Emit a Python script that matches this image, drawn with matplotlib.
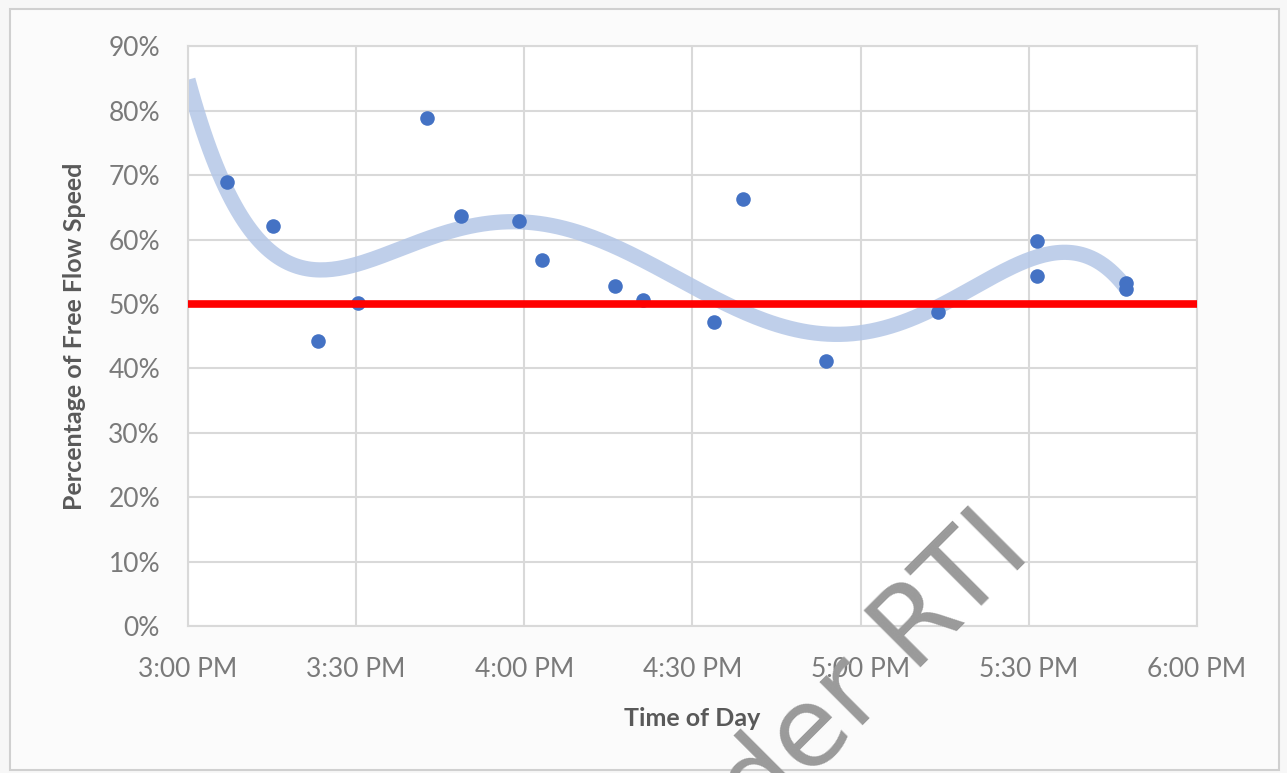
import numpy as np
import matplotlib.pyplot as plt
from matplotlib.patches import Rectangle

# minutes after 3:00 PM and share of free flow speed (%)
minutes = [7, 15.2, 23.2, 30.4, 42.7, 48.8, 59.1, 63.2, 76.2, 81.1,
           93.9, 99.1, 113.8, 133.8, 151.4, 151.4, 167.3, 167.3]
pct_ffs = [68.9, 62.1, 44.3, 50.2, 78.9, 63.7, 62.9, 56.8, 52.8, 50.6,
           47.2, 66.3, 41.1, 48.8, 59.8, 54.3, 53.3, 52.3]

tick_minutes = [0, 30, 60, 90, 120, 150, 180]
tick_labels = ['3:00 PM', '3:30 PM', '4:00 PM', '4:30 PM', '5:00 PM', '5:30 PM', '6:00 PM']
y_ticks = [0, 10, 20, 30, 40, 50, 60, 70, 80, 90]
threshold = 50

plt.rcParams['font.family'] = ['Lato', 'DejaVu Sans']
txt = '#595959'
tick_txt = '#7a7a7a'
grid = '#d9d9d9'

fig = plt.figure(figsize=(12.87, 7.73), dpi=100)
fig.patch.set_facecolor('#f7f7f7')
fig.patches.append(Rectangle((0.008, 0.004), 0.986, 0.984, transform=fig.transFigure,
                             facecolor='#fbfbfb', edgecolor='#d0d0d0', lw=1.5,
                             zorder=-10))
ax = fig.add_axes([0.146, 0.190, 0.784, 0.750])
ax.set_facecolor('white')

x = np.array(minutes)
y = np.array(pct_ffs)

# polynomial trendline, as Excel draws it
coef = np.polyfit(x, y, 5)
xs = np.linspace(0, x.max(), 300)
ax.plot(xs, np.polyval(coef, xs), color='#b4c7e7', lw=11, alpha=0.85,
        solid_capstyle='butt', zorder=2)

ax.scatter(x, y, s=110, color='#4472c4', zorder=3, linewidths=0)
ax.axhline(threshold, color='#ff0000', lw=5.5, zorder=4)

ax.set_xlim(0, 180)
ax.set_ylim(0, 90)
ax.set_xticks(tick_minutes)
ax.set_xticklabels(tick_labels)
ax.set_yticks(y_ticks)
ax.set_yticklabels([f'{v}%' for v in y_ticks])
ax.grid(True, color=grid, lw=1.5)
ax.set_axisbelow(True)
for s in ax.spines.values():
    s.set_color(grid)
    s.set_linewidth(1.5)
ax.tick_params(axis='x', length=0, colors=tick_txt, labelsize=19, pad=22)
ax.tick_params(axis='y', length=0, colors=tick_txt, labelsize=19, pad=20)

ax.set_xlabel('Time of Day', fontsize=18, color=txt, fontweight='bold', labelpad=18)
ax.set_ylabel('Percentage of Free Flow Speed', fontsize=18, color=txt,
              fontweight='bold', labelpad=16)

fig.text(0.803, 0.282, 'Under RTI', fontsize=80, color='#9a9a9a', rotation=45,
         family='DejaVu Sans', ha='right', va='baseline', rotation_mode='anchor',
         zorder=10)

fig.savefig('out.png', dpi=100, facecolor=fig.get_facecolor())
